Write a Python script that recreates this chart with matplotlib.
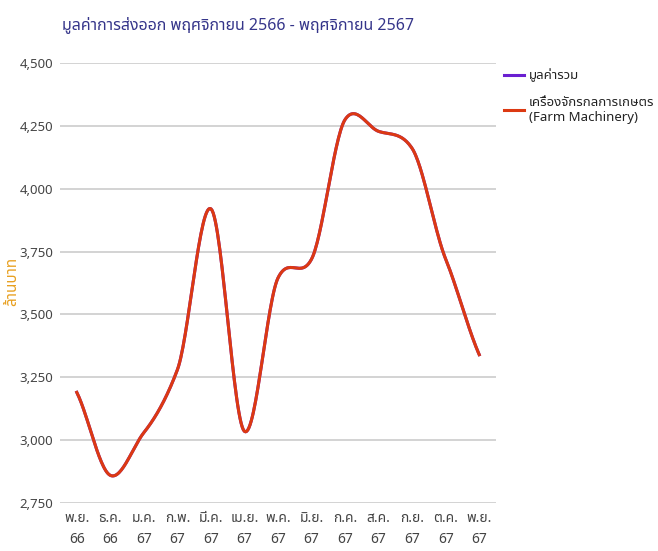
import numpy as np
import matplotlib
matplotlib.use("Agg")
import matplotlib.pyplot as plt
from matplotlib import font_manager
from matplotlib.ft2font import FT2Font

# ── data ─────────────────────────────────────────────────────
months = ["พ.ย.\n66", "ธ.ค.\n66", "ม.ค.\n67", "ก.พ.\n67", "มี.ค.\n67", "เม.ย.\n67",
          "พ.ค.\n67", "มิ.ย.\n67", "ก.ค.\n67", "ส.ค.\n67", "ก.ย.\n67", "ต.ค.\n67", "พ.ย.\n67"]
total     = [3190, 2860, 3030, 3280, 3920, 3035, 3645, 3720, 4275, 4228, 4160, 3720, 3340]
machinery = [3190, 2860, 3030, 3280, 3920, 3035, 3645, 3720, 4275, 4228, 4160, 3720, 3340]
yticks = [2750, 3000, 3250, 3500, 3750, 4000, 4250, 4500]


# ── font with Thai glyphs ────────────────────────────────────
def thai_font():
    names = []
    for f in font_manager.fontManager.ttflist:
        try:
            if 0x0E01 in FT2Font(f.fname).get_charmap():
                names.append(f.name)
        except Exception:
            pass
    for pref in ["Noto Sans Thai", "Noto Sans Thai UI", "Loma", "Garuda", "Tlwg Typo", "Sarabun"]:
        if pref in names:
            return pref
    return names[0] if names else None


tf = thai_font()
plt.rcParams["font.family"] = ([tf] if tf else []) + ["Liberation Sans", "DejaVu Sans"]


def smooth(y, k=0.8, n=30):
    # cubic hermite with catmull-rom style tangents
    y = np.asarray(y, float)
    m = np.zeros_like(y)
    m[1:-1] = k * (y[2:] - y[:-2]) / 2
    m[0] = k * (y[1] - y[0])
    m[-1] = k * (y[-1] - y[-2])
    xs, ys = [], []
    for i in range(len(y) - 1):
        t = np.linspace(0, 1, n, endpoint=False)
        h00 = 2*t**3 - 3*t**2 + 1
        h10 = t**3 - 2*t**2 + t
        h01 = -2*t**3 + 3*t**2
        h11 = t**3 - t**2
        xs.append(i + t)
        ys.append(h00*y[i] + h10*m[i] + h01*y[i+1] + h11*m[i+1])
    xs.append([len(y) - 1])
    ys.append([y[-1]])
    return np.concatenate(xs), np.concatenate(ys)


fig = plt.figure(figsize=(6.58, 5.51), dpi=100)
ax = fig.add_axes([0.0912, 0.0871, 0.6626, 0.7986])

x = np.arange(len(months))
sx, sy = smooth(total)
ax.plot(sx, sy, color="#6a1fd1", lw=2.2, label="มูลค่ารวม")
sx, sy = smooth(machinery)
ax.plot(sx, sy, color="#dc3912", lw=2.2, label="เครื่องจักรกลการเกษตร\n(Farm Machinery)")

ax.set_xlim(-0.5, len(months) - 0.5)
ax.set_ylim(2750, 4500)
ax.set_yticks(yticks)
ax.set_yticklabels([f"{v:,}" for v in yticks])
ax.set_xticks(x)
ax.set_xticklabels(months, linespacing=1.5)
ax.tick_params(length=0, labelsize=10, colors="#444444")
ax.tick_params(axis="y", labelsize=9.5, pad=5)
ax.tick_params(axis="x", pad=6)
ax.grid(axis="y", color="#cccccc", lw=1.2)
ax.set_axisbelow(True)
for s in ax.spines.values():
    s.set_visible(False)

fig.text(0.02, 0.49, "ล้านบาท", color="#e8a020", fontstyle="italic", fontsize=11,
         rotation=90, ha="center", va="center")

fig.text(0.094, 0.955, "มูลค่าการส่งออก พฤศจิกายน 2566 - พฤศจิกายน 2567",
         color="#35358a", fontsize=11.5, fontweight="bold", va="center", fontstretch="condensed")

ax.legend(loc="upper left", bbox_to_anchor=(1.0, 1.005), frameon=False,
          fontsize=9.5, handlelength=1.5, handletextpad=0.4, labelspacing=1.0,
          borderaxespad=0.2, labelcolor="#222222")

plt.savefig("out.png", dpi=100)
